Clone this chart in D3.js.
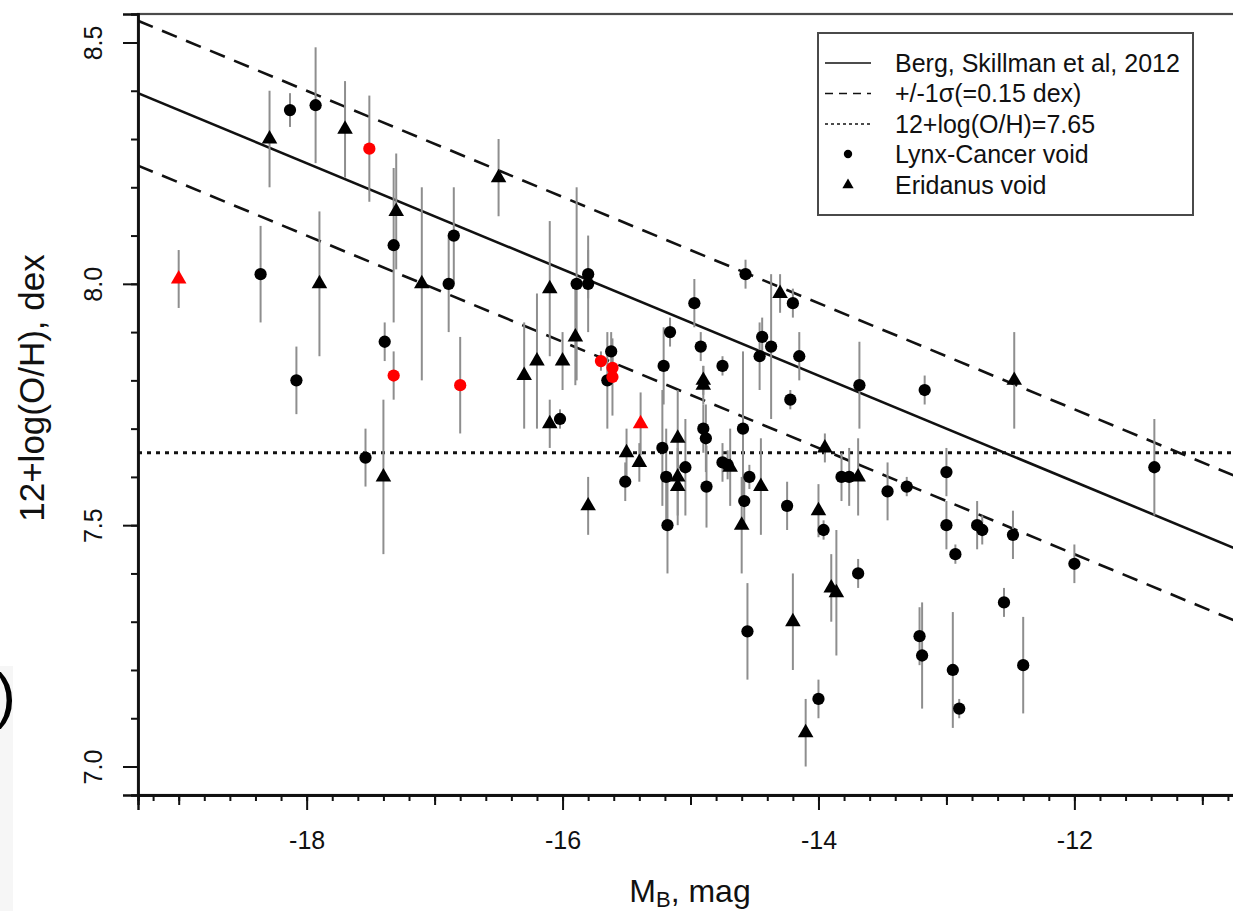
<!DOCTYPE html>
<html>
<head>
<meta charset="utf-8">
<script src="https://cdn.jsdelivr.net/npm/d3@7/dist/d3.min.js"></script>
<style>
  html, body { margin: 0; padding: 0; background: #ffffff; }
  svg { display: block; }
  text { font-family: "Liberation Sans", Arial, Helvetica, sans-serif; fill: #111; }
</style>
</head>
<body>
<svg id="chart" width="1233" height="911"></svg>
<script>
// ---------------- DATA ----------------
// [M_B, 12+log(O/H), error]
const lynxBlack = [
  [-18.36, 8.02, 0.10], [-18.13, 8.36, 0.035], [-17.93, 8.37, 0.12], [-17.32, 8.08, 0.16],
  [-18.08, 7.80, 0.07], [-17.39, 7.88, 0.04], [-17.54, 7.64, 0.06], [-16.85, 8.10, 0.10],
  [-16.89, 8.00, 0.10], [-15.89, 8.00, 0.20], [-15.80, 8.02, 0.05], [-15.80, 8.00, 0.10],
  [-16.02, 7.72, 0.02], [-15.62, 7.86, 0.04], [-15.65, 7.80, 0.10], [-15.51, 7.59, 0.04],
  [-15.21, 7.83, 0.08], [-15.22, 7.66, 0.12], [-15.19, 7.60, 0.10], [-15.18, 7.50, 0.10],
  [-15.16, 7.90, 0.03], [-15.04, 7.62, 0.10], [-14.97, 7.96, 0.05], [-14.92, 7.87, 0.03],
  [-14.90, 7.70, 0.05], [-14.88, 7.68, 0.07], [-14.875, 7.58, 0.085], [-14.75, 7.83, 0.02],
  [-14.75, 7.63, 0.04], [-14.71, 7.625, 0.03], [-14.59, 7.70, 0.16], [-14.57, 8.02, 0.03],
  [-14.58, 7.55, 0.05], [-14.555, 7.28, 0.10], [-14.54, 7.60, 0.025], [-14.44, 7.89, 0.04],
  [-14.46, 7.85, 0.07], [-14.37, 7.87, 0.15], [-14.20, 7.96, 0.03], [-14.15, 7.85, 0.05],
  [-14.22, 7.76, 0.02], [-14.245, 7.54, 0.05], [-13.96, 7.49, 0.02], [-14.00, 7.14, 0.04],
  [-13.82, 7.60, 0.05], [-13.76, 7.60, 0.06], [-13.69, 7.40, 0.03], [-13.68, 7.79, 0.09],
  [-13.46, 7.57, 0.06], [-13.31, 7.58, 0.02], [-13.17, 7.78, 0.03], [-13.21, 7.27, 0.06],
  [-13.19, 7.23, 0.11], [-13.00, 7.61, 0.05], [-13.00, 7.50, 0.05], [-12.95, 7.20, 0.12],
  [-12.93, 7.44, 0.02], [-12.90, 7.12, 0.02], [-12.76, 7.50, 0.05], [-12.72, 7.49, 0.03],
  [-12.55, 7.34, 0.03], [-12.48, 7.48, 0.05], [-12.40, 7.21, 0.10], [-12.00, 7.42, 0.04],
  [-11.375, 7.62, 0.10]
];
const lynxRed = [
  [-17.51, 8.28, 0.11], [-17.32, 7.81, 0.05], [-16.80, 7.79, 0.10],
  [-15.70, 7.84, 0.02], [-15.61, 7.826, 0.03], [-15.61, 7.807, 0.08]
];
const eridanusBlack = [
  [-18.29, 8.30, 0.10], [-17.70, 8.32, 0.10], [-17.30, 8.15, 0.12], [-17.90, 8.00, 0.15],
  [-17.10, 8.00, 0.20], [-17.40, 7.60, 0.16], [-16.50, 8.22, 0.08], [-16.10, 7.99, 0.14],
  [-16.30, 7.81, 0.11], [-16.20, 7.84, 0.14], [-16.00, 7.84, 0.06], [-16.10, 7.71, 0.05],
  [-15.90, 7.89, 0.10], [-15.80, 7.54, 0.06], [-15.50, 7.65, 0.05], [-15.40, 7.63, 0.04],
  [-15.10, 7.68, 0.10], [-15.10, 7.60, 0.08], [-15.10, 7.58, 0.08], [-14.90, 7.80, 0.03],
  [-14.90, 7.79, 0.04], [-14.69, 7.62, 0.08], [-14.60, 7.50, 0.10], [-14.45, 7.58, 0.10],
  [-14.30, 7.98, 0.04], [-14.20, 7.30, 0.10], [-14.10, 7.07, 0.07], [-14.00, 7.53, 0.055],
  [-13.95, 7.66, 0.03], [-13.90, 7.37, 0.07], [-13.86, 7.36, 0.13], [-13.69, 7.60, 0.08],
  [-12.47, 7.80, 0.10]
];
const eridanusRed = [
  [-19.00, 8.01, 0.06], [-15.39, 7.71, 0.065]
];

// relation of Berg, Skillman et al. 2012: 12+log(O/H) = a + b*M_B
const bergIntercept = 6.27;
const bergSlope = -0.11;
const sigma = 0.15;
const thresholdOH = 7.65;

const xDomain = [-19.318, -10.69];
const yDomain = [6.941, 8.559];
const xMajorTicks = [-18, -16, -14, -12];
const xMajorLabels = ["-18", "-16", "-14", "-12"];
const yMajorTicks = [7.0, 7.5, 8.0, 8.5];
const yMajorLabels = ["7.0", "7.5", "8.0", "8.5"];
const legendLabels = ["Berg, Skillman et al, 2012", "+/-1\u03c3(=0.15 dex)", "12+log(O/H)=7.65", "Lynx-Cancer void", "Eridanus void"];
const xTitle = "M";
const xTitleSub = "B";
const xTitleRest = ", mag";
const yTitle = "12+log(O/H), dex";

// ---------------- LAYOUT ----------------
const plot = { left: 138, right: 1242, top: 14, bottom: 795 };
const svg = d3.select("#chart");

const x = d3.scaleLinear().domain(xDomain).range([plot.left, plot.right]);
const y = d3.scaleLinear().domain(yDomain).range([plot.bottom, plot.top]);

// stray fragment of neighbouring panel at left edge
svg.append("rect").attr("x", 0).attr("y", 666).attr("width", 13).attr("height", 245).attr("fill", "#f6f6f6");
svg.append("text").attr("x", 16).attr("y", 716).attr("text-anchor", "end")
  .style("font-size", "62px").style("fill", "#000").text(")");

svg.append("defs").append("clipPath").attr("id", "clip")
  .append("rect").attr("x", plot.left).attr("y", plot.top)
  .attr("width", plot.right - plot.left).attr("height", plot.bottom - plot.top);

const gPlot = svg.append("g").attr("clip-path", "url(#clip)");

// reference lines
const lineGen = d3.line().x(d => x(d[0])).y(d => y(d[1]));
const bergAt = (m, off) => bergIntercept + bergSlope * m + off;
gPlot.append("path")
  .datum(xDomain.map(m => [m, bergAt(m, 0)]))
  .attr("d", lineGen).attr("fill", "none").attr("stroke", "#111").attr("stroke-width", 2.6);
[sigma, -sigma].forEach(off => {
  gPlot.append("path")
    .datum(xDomain.map(m => [m, bergAt(m, off)]))
    .attr("d", lineGen).attr("fill", "none").attr("stroke", "#111")
    .attr("stroke-width", 2.6).attr("stroke-dasharray", "16,10");
});
gPlot.append("path")
  .datum(xDomain.map(m => [m, thresholdOH]))
  .attr("d", lineGen).attr("fill", "none").attr("stroke", "#111")
  .attr("stroke-width", 2.8).attr("stroke-dasharray", "4,5");

// error bars
const allPts = [].concat(lynxBlack, lynxRed, eridanusBlack, eridanusRed);
gPlot.append("g").selectAll("line").data(allPts).join("line")
  .attr("x1", d => x(d[0])).attr("x2", d => x(d[0]))
  .attr("y1", d => y(d[1] + d[2])).attr("y2", d => y(d[1] - d[2]))
  .attr("stroke", "#8e8e8e").attr("stroke-width", 2);

// markers
const circleSym = d3.symbol().type(d3.symbolCircle).size(118);
const triSym = d3.symbol().type(d3.symbolTriangle).size(105);
function drawPts(data, sym, color) {
  gPlot.append("g").selectAll("path").data(data).join("path")
    .attr("d", sym)
    .attr("transform", d => `translate(${x(d[0])},${y(d[1])})`)
    .attr("fill", color);
}
drawPts(lynxBlack, circleSym, "#000");
drawPts(eridanusBlack, triSym, "#000");
drawPts(lynxRed, circleSym, "#ff0000");
drawPts(eridanusRed, triSym, "#ff0000");

// frame
svg.append("rect").attr("x", plot.left).attr("y", plot.top)
  .attr("width", plot.right - plot.left).attr("height", plot.bottom - plot.top)
  .attr("fill", "none").attr("stroke", "#4a4a4a").attr("stroke-width", 2.2);

// ---------------- AXES ----------------
const xMinor = d3.range(-19.2, -10.6, 0.2).map(v => +v.toFixed(1));
const xOdd = [-19, -17, -15, -13, -11];
const yMinor = d3.range(7.0, 8.55, 0.1).map(v => +v.toFixed(1));

const gx = svg.append("g").attr("transform", `translate(0,${plot.bottom})`);
gx.append("g").call(d3.axisBottom(x).tickValues(xMinor).tickSize(6).tickFormat(""));
gx.append("g").call(d3.axisBottom(x).tickValues(xOdd).tickSize(10).tickFormat(""));
gx.append("g").attr("class", "xmaj")
  .call(d3.axisBottom(x).tickValues(xMajorTicks).tickSize(15).tickPadding(21)
    .tickFormat((d, i) => xMajorLabels[i]));
gx.selectAll(".domain").attr("stroke", "#111").attr("stroke-width", 2.4);
gx.selectAll(".tick line").attr("stroke", "#111").attr("stroke-width", 2);
gx.selectAll(".xmaj text").style("font-size", "25px").style("fill", "#111");

const gy = svg.append("g").attr("transform", `translate(${plot.left},0)`);
gy.append("g").call(d3.axisLeft(y).tickValues(yMinor).tickSize(7).tickFormat(""));
gy.append("g").attr("class", "ymaj")
  .call(d3.axisLeft(y).tickValues(yMajorTicks).tickSize(15).tickFormat((d, i) => yMajorLabels[i]));
gy.selectAll(".domain").attr("stroke", "#111").attr("stroke-width", 2.4);
gy.selectAll(".tick line").attr("stroke", "#111").attr("stroke-width", 2);
gy.selectAll(".ymaj text")
  .attr("x", 0).attr("y", 0).attr("dy", 0)
  .attr("text-anchor", "middle")
  .attr("transform", "translate(-36,0) rotate(-90)")
  .style("font-size", "25px").style("fill", "#111");

// axis titles
const xt = svg.append("text").attr("x", 690).attr("y", 902).attr("text-anchor", "middle")
  .style("font-size", "32px");
xt.append("tspan").text(xTitle);
xt.append("tspan").attr("dy", 5).style("font-size", "22px").text(xTitleSub);
xt.append("tspan").attr("dy", -5).text(xTitleRest);

svg.append("text").attr("transform", "translate(44,388) rotate(-90)")
  .attr("text-anchor", "middle").style("font-size", "35px").text(yTitle);

// ---------------- LEGEND ----------------
const lg = svg.append("g");
lg.append("rect").attr("x", 818).attr("y", 33).attr("width", 375).attr("height", 182)
  .attr("fill", "#fff").attr("stroke", "#4a4a4a").attr("stroke-width", 2);
const rowY = [63, 93.5, 124, 154, 185];
const dashes = [null, "8,6", "3,3"];
[0, 1, 2].forEach(i => {
  lg.append("line").attr("x1", 825).attr("x2", 871).attr("y1", rowY[i]).attr("y2", rowY[i])
    .attr("stroke", "#111").attr("stroke-width", 1.6)
    .attr("stroke-dasharray", dashes[i]);
});
lg.append("path").attr("d", d3.symbol().type(d3.symbolCircle).size(55)())
  .attr("transform", `translate(848,${rowY[3]})`).attr("fill", "#000");
lg.append("path").attr("d", d3.symbol().type(d3.symbolTriangle).size(55)())
  .attr("transform", `translate(848,${rowY[4]})`).attr("fill", "#000");
lg.selectAll("text.lab").data(legendLabels).join("text").attr("class", "lab")
  .attr("x", 895).attr("y", (d, i) => rowY[i] + 8.5)
  .style("font-size", "25px").text(d => d);
</script>
</body>
</html>
